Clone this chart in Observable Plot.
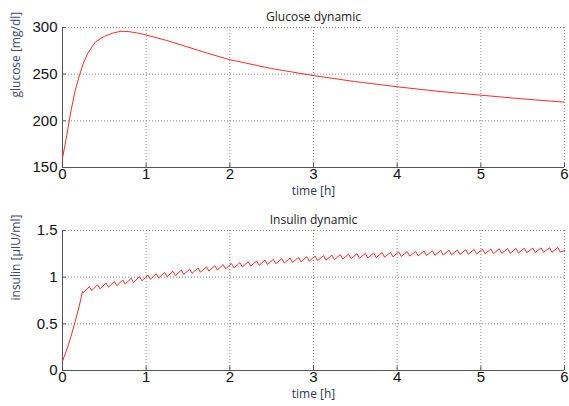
<!DOCTYPE html>
<html><head><meta charset="utf-8">
<script src="https://cdn.jsdelivr.net/npm/d3@7"></script>
<script src="https://cdn.jsdelivr.net/npm/@observablehq/plot@0.6"></script>
<style>
body{margin:0;background:#fff;}
#c{width:569px;height:406px;}
#c svg{display:block;}
</style>
</head><body><div id="c"></div>
<script>
const xTicks = [0, 1, 2, 3, 4, 5, 6];
const glucoseTicks = [150, 200, 250, 300];
const insulinTicks = [0, 0.5, 1, 1.5];
const insulinTickLabels = ["0", "0.5", "1", "1.5"];

const glucoseTime = [0, 0.05, 0.1, 0.15, 0.2, 0.25, 0.3, 0.35, 0.4, 0.5, 0.6, 0.7, 0.8, 0.9, 1.0, 1.25, 1.5, 1.75, 2.0, 2.5, 3.0, 3.5, 4.0, 4.5, 5.0, 5.5, 6.0];
const glucoseValue = [160, 184, 210, 232, 248, 262, 272, 279, 285, 290.5, 294, 296, 295.5, 294, 292, 286, 279, 272, 265.5, 256, 248.5, 242, 236.5, 231.5, 227.5, 223.5, 220];

const insulinTime = [0, 0.05, 0.1, 0.15, 0.2, 0.24,
0.25,0.32,0.35,0.42,0.45,0.52,0.55,0.62,0.65,0.72,0.75,0.82,0.85,0.92,0.95,
1.02,1.05,1.12,1.15,1.22,1.25,1.32,1.35,1.42,1.45,1.52,1.55,1.62,1.65,1.72,1.75,1.82,1.85,1.92,1.95,
2.02,2.05,2.12,2.15,2.22,2.25,2.32,2.35,2.42,2.45,2.52,2.55,2.62,2.65,2.72,2.75,2.82,2.85,2.92,2.95,
3.02,3.05,3.12,3.15,3.22,3.25,3.32,3.35,3.42,3.45,3.52,3.55,3.62,3.65,3.72,3.75,3.82,3.85,3.92,3.95,
4.02,4.05,4.12,4.15,4.22,4.25,4.32,4.35,4.42,4.45,4.52,4.55,4.62,4.65,4.72,4.75,4.82,4.85,4.92,4.95,
5.02,5.05,5.12,5.15,5.22,5.25,5.32,5.35,5.42,5.45,5.52,5.55,5.62,5.65,5.72,5.75,5.82,5.85,5.92,5.95,
6.0];
const insulinValue = [0.10, 0.22, 0.36, 0.52, 0.69, 0.85,
0.835,0.899,0.855,0.919,0.875,0.938,0.893,0.954,0.909,0.970,0.925,0.988,0.943,1.006,0.961,
1.023,0.977,1.037,0.991,1.051,1.005,1.063,1.017,1.075,1.029,1.087,1.041,1.099,1.053,1.111,1.065,1.123,1.077,1.135,1.089,
1.147,1.100,1.156,1.109,1.165,1.118,1.174,1.127,1.183,1.136,1.191,1.144,1.198,1.151,1.205,1.158,1.212,1.165,1.219,1.172,
1.226,1.178,1.231,1.183,1.236,1.188,1.241,1.193,1.246,1.198,1.251,1.202,1.255,1.206,1.259,1.210,1.263,1.214,1.267,1.218,
1.271,1.222,1.274,1.225,1.277,1.228,1.280,1.231,1.283,1.234,1.286,1.237,1.289,1.240,1.292,1.243,1.295,1.246,1.298,1.249,
1.300,1.251,1.302,1.252,1.304,1.255,1.306,1.256,1.308,1.259,1.310,1.261,1.312,1.263,1.314,1.265,1.316,1.267,1.318,1.269,
1.285];

function panel(title, yLabel, time, value, yDomain, yTicks, yFmt) {
  const data = time.map((t, i) => ({t, v: value[i]}));
  const txt = {fontFamily: "'Open Sans', sans-serif", fontSize: 12};
  return Plot.plot({
    width: 569, height: 203,
    marginLeft: 62, marginRight: 5, marginTop: 27, marginBottom: 36,
    style: {fontFamily: "'Liberation Sans', Arial, sans-serif", fontSize: "15px", color: "#111", background: "white", overflow: "visible"},
    x: {domain: [0, 6]},
    y: {domain: yDomain},
    marks: [
      Plot.gridX(xTicks, {stroke: "#888", strokeOpacity: 1, strokeDasharray: "1,2"}),
      Plot.gridY(yTicks, {stroke: "#888", strokeOpacity: 1, strokeDasharray: "1,2"}),
      Plot.ruleX([0], {stroke: "#555"}),
      Plot.ruleY([yDomain[0]], {stroke: "#555"}),
      Plot.axisX(xTicks, {tickSize: -4, tickPadding: 5, label: null, stroke: "#555"}),
      Plot.axisY(yTicks, {tickSize: -4, tickPadding: 9, label: null, stroke: "#555", tickFormat: yFmt}),
      Plot.line(data, {x: "t", y: "v", stroke: "#ff2a2a", strokeWidth: 1}),
      Plot.text([title], {frameAnchor: "top", dy: -15, fill: "#222", ...txt}),
      Plot.text(["time [h]"], {frameAnchor: "bottom", dy: 27, fill: "#2a3550", ...txt}),
      Plot.text([yLabel], {frameAnchor: "left", dx: -46, rotate: -90, fill: "#3a4a6e", ...txt})
    ]
  });
}

const c = document.getElementById("c");
c.append(panel("Glucose dynamic", "glucose [mg/dl]", glucoseTime, glucoseValue, [150, 300], glucoseTicks, d => String(d)));
c.append(panel("Insulin dynamic", "insulin [µIU/ml]", insulinTime, insulinValue, [0, 1.5], insulinTicks, d => insulinTickLabels[insulinTicks.indexOf(d)]));
</script>
</body></html>
